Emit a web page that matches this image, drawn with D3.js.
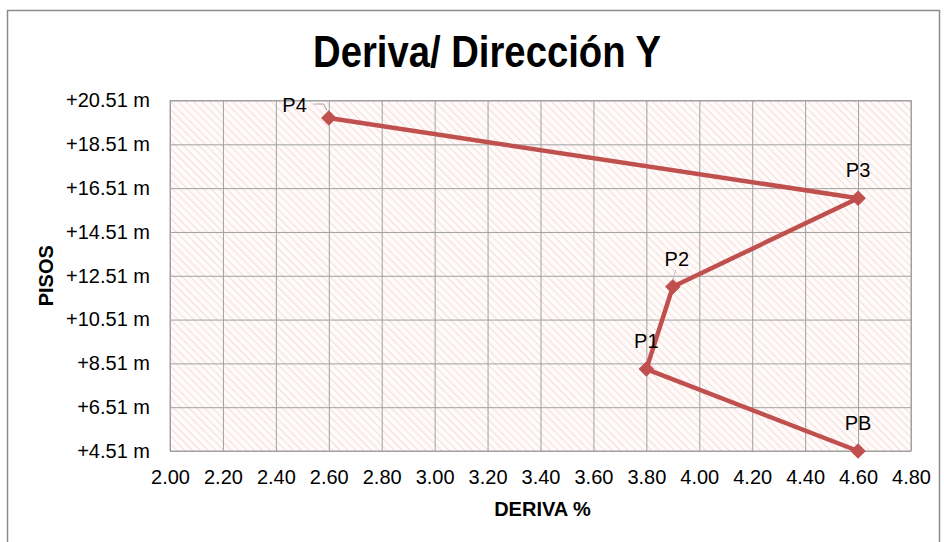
<!DOCTYPE html>
<html>
<head>
<meta charset="utf-8">
<script src="https://cdn.jsdelivr.net/npm/d3@7"></script>
<style>
  body { margin: 0; background: #fff; }
  svg { font-family: "Liberation Sans", Arial, sans-serif; }
</style>
</head>
<body>
<div id="chart"></div>
<script>
// Data
var pisos = ["PB", "P1", "P2", "P3", "P4"];
var deriva = [4.60, 3.80, 3.90, 4.60, 2.60];
var altura = [4.51, 8.25, 12.01, 16.05, 19.71];

var xTicks = [2.00, 2.20, 2.40, 2.60, 2.80, 3.00, 3.20, 3.40, 3.60, 3.80, 4.00, 4.20, 4.40, 4.60, 4.80];
var yTicks = [4.51, 6.51, 8.51, 10.51, 12.51, 14.51, 16.51, 18.51, 20.51];
var yTickLabels = ["+4.51 m", "+6.51 m", "+8.51 m", "+10.51 m", "+12.51 m", "+14.51 m", "+16.51 m", "+18.51 m", "+20.51 m"];

var W = 944, H = 542;
var margin = { top: 100.5, right: 33, bottom: 91, left: 170 },
    width = W - margin.left - margin.right,
    height = H - margin.top - margin.bottom;

var red = "#c0504d";
var grid = "#a0a0a0";

var svg = d3.select("#chart")
  .append("svg")
    .attr("width", W)
    .attr("height", H);

// hatch pattern for the plot area
var defs = svg.append("defs");
var pat = defs.append("pattern")
    .attr("id", "hatch")
    .attr("patternUnits", "userSpaceOnUse")
    .attr("width", 5.5)
    .attr("height", 5.5)
    .attr("patternTransform", "rotate(45)");
pat.append("rect").attr("width", 5.5).attr("height", 5.5).attr("fill", "#fffbfb");
pat.append("rect").attr("width", 5.5).attr("height", 1).attr("fill", "#f6dbd6");

// chart frame
svg.append("rect")
    .attr("x", 7.5).attr("y", 10.5)
    .attr("width", 932).attr("height", 560)
    .attr("fill", "none")
    .attr("stroke", "#8c8c8c")
    .attr("stroke-width", 1.5);

var g = svg.append("g")
    .attr("transform", "translate(" + margin.left + "," + margin.top + ")");

var x = d3.scaleLinear().domain([2.0, 4.8]).range([0, width]);
var y = d3.scaleLinear().domain([4.51, 20.51]).range([height, 0]);

g.append("rect")
    .attr("width", width)
    .attr("height", height)
    .attr("fill", "url(#hatch)");

// gridlines
g.append("g")
    .attr("class", "xgrid")
    .attr("transform", "translate(0," + height + ")")
    .call(d3.axisBottom(x).tickValues(xTicks).tickSize(-height).tickFormat(""))
    .call(function (s) { s.select(".domain").remove(); })
    .selectAll("line").attr("stroke", grid);

g.append("g")
    .attr("class", "ygrid")
    .call(d3.axisLeft(y).tickValues(yTicks).tickSize(-width).tickFormat(""))
    .call(function (s) { s.select(".domain").remove(); })
    .selectAll("line").attr("stroke", grid);

g.append("rect")
    .attr("width", width)
    .attr("height", height)
    .attr("fill", "none")
    .attr("stroke", grid);

// axes labels
var xAxis = g.append("g")
    .attr("transform", "translate(0," + height + ")")
    .call(d3.axisBottom(x).tickValues(xTicks).tickSize(0).tickPadding(19).tickFormat(d3.format(".2f")));
xAxis.select(".domain").remove();
xAxis.selectAll("text").attr("font-size", 20).attr("fill", "#000")
    .attr("font-family", "'Liberation Sans', Arial, sans-serif");

var yAxis = g.append("g")
    .call(d3.axisLeft(y).tickValues(yTicks).tickSize(0).tickPadding(20)
      .tickFormat(function (d, i) { return yTickLabels[i]; }));
yAxis.select(".domain").remove();
yAxis.selectAll("text").attr("font-size", 20).attr("fill", "#000")
    .attr("font-family", "'Liberation Sans', Arial, sans-serif");

// series line
var pts = deriva.map(function (d, i) { return { x: d, y: altura[i], name: pisos[i] }; });

g.append("path")
    .datum(pts)
    .attr("fill", "none")
    .attr("stroke", red)
    .attr("stroke-width", 4.5)
    .attr("stroke-linejoin", "round")
    .attr("d", d3.line().x(function (d) { return x(d.x); }).y(function (d) { return y(d.y); }));

// diamond markers
g.selectAll(".marker")
    .data(pts)
    .enter()
    .append("path")
    .attr("class", "marker")
    .attr("d", d3.symbol().type(d3.symbolSquare).size(100))
    .attr("transform", function (d) { return "translate(" + x(d.x) + "," + y(d.y) + ") rotate(45)"; })
    .attr("fill", red)
    .attr("stroke", red)
    .attr("stroke-width", 1);

// data labels
g.selectAll(".lbl")
    .data(pts)
    .enter()
    .append("text")
    .attr("class", "lbl")
    .attr("x", function (d) {
      if (d.name === "P4") return x(d.x) - 22;
      if (d.name === "P2") return x(d.x) + 4;
      return x(d.x);
    })
    .attr("y", function (d) {
      if (d.name === "P4") return y(d.y) - 6;
      return y(d.y) - 21;
    })
    .attr("text-anchor", function (d) { return d.name === "P4" ? "end" : "middle"; })
    .attr("font-size", 20)
    .attr("fill", "#000")
    .text(function (d) { return d.name; });

// leader lines
var p4 = pts[4], p2 = pts[2];
g.append("path")
    .attr("d", "M" + (x(p4.x) - 15) + "," + (y(p4.y) - 14) + "H" + (x(p4.x) - 5) + "L" + (x(p4.x) - 2) + "," + (y(p4.y) - 8))
    .attr("fill", "none").attr("stroke", "#a6a6a6").attr("stroke-width", 1);
g.append("line")
    .attr("x1", x(p2.x) + 3).attr("y1", y(p2.y) - 17)
    .attr("x2", x(p2.x)).attr("y2", y(p2.y) - 7)
    .attr("stroke", "#bfbfbf").attr("stroke-width", 1);

// titles
svg.append("text")
    .attr("x", 487)
    .attr("y", 67)
    .attr("text-anchor", "middle")
    .attr("font-size", 44)
    .attr("font-weight", "bold")
    .attr("textLength", 348)
    .attr("lengthAdjust", "spacingAndGlyphs")
    .text("Deriva/ Dirección Y");

svg.append("text")
    .attr("x", margin.left + width / 2 + 2)
    .attr("y", 516)
    .attr("text-anchor", "middle")
    .attr("font-size", 20)
    .attr("font-weight", "bold")
    .text("DERIVA %");

svg.append("text")
    .attr("transform", "translate(53," + (margin.top + height / 2) + ") rotate(-90)")
    .attr("text-anchor", "middle")
    .attr("font-size", 20)
    .attr("font-weight", "bold")
    .text("PISOS");
</script>
</body>
</html>
